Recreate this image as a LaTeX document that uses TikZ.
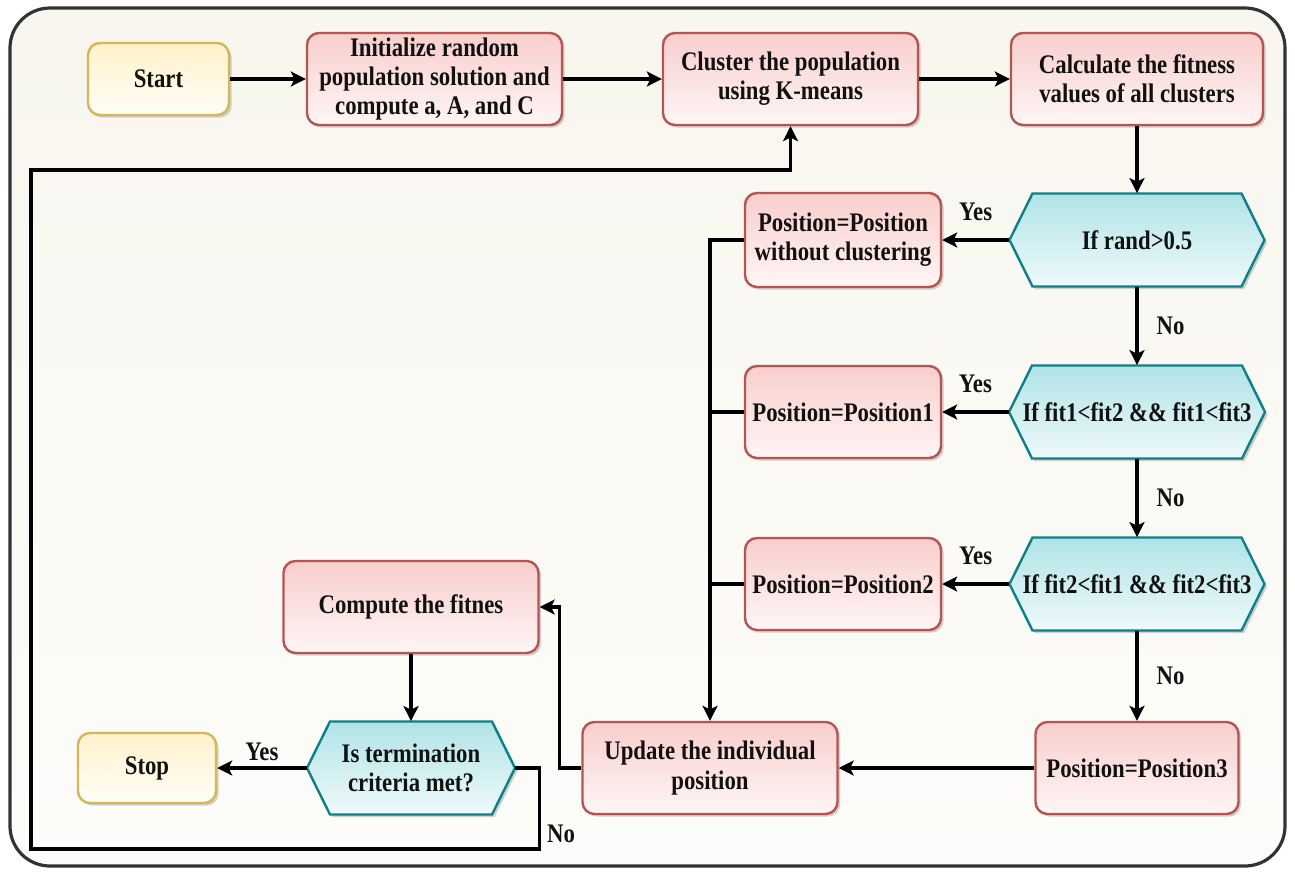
\documentclass[tikz,border=0pt]{standalone}
\usepackage{fontspec}
\setmainfont{Liberation Serif}[FakeStretch=0.85]
\usetikzlibrary{arrows.meta,shadows}
\definecolor{redb}{HTML}{B85450}
\definecolor{redt}{HTML}{F8CECC}
\definecolor{redw}{HTML}{FFF6F6}
\definecolor{yelb}{HTML}{D6B656}
\definecolor{yelt}{HTML}{FFF2CC}
\definecolor{yelw}{HTML}{FFFDF6}
\definecolor{tealb}{HTML}{0E8088}
\definecolor{tealt}{HTML}{B0E3E6}
\definecolor{tealw}{HTML}{EFFAFB}
\definecolor{framec}{HTML}{333333}
\definecolor{bgt}{HTML}{F8F6EE}
\definecolor{bgb}{HTML}{FCFCFA}
\definecolor{ink}{HTML}{111111}

\newcommand\hexnode[5]{%
  \path[hexshape] (#2-#4,#3) -- ++(23,-46.5) -- ++(2*#4-46,0) -- ++(23,46.5) -- ++(-23,46.5) -- ++(-2*#4+46,0) -- cycle;
  \node[hextext, minimum width=#4pt] (#1) at (#2,#3) {#5};}

\begin{document}
\begin{tikzpicture}[x=0.5pt,y=-0.5pt,
  font=\fontsize{13.4}{14.6}\selectfont\bfseries, text=ink,
  shad/.style={drop shadow={shadow xshift=1.3pt,shadow yshift=-1.3pt,opacity=0.35}},
  base/.style={rectangle, align=center, line width=1.2pt, rounded corners=6pt, shad, minimum height=46pt, inner sep=2pt},
  redbox/.style={base, draw=redb, top color=redt, bottom color=redw, minimum width=127.5pt},
  yelbox/.style={base, draw=yelb, top color=yelt, bottom color=yelw, minimum width=70pt, minimum height=36pt},
  hexshape/.style={draw=tealb, line width=1.2pt, top color=tealt, bottom color=tealw, line join=miter, shad},
  hextext/.style={rectangle, minimum height=46.5pt, inner sep=0pt, align=center},
  frame/.style={draw=framec, line width=1.6pt, rounded corners=20pt, top color=bgt, bottom color=bgb},
  arr/.style={draw=black, line width=1.6pt, -{Stealth[length=7.5pt,width=7.5pt,inset=1.8pt]}},
  plainline/.style={draw=black, line width=1.6pt},
  lbl/.style={inner sep=1pt}]
\useasboundingbox (0,0) rectangle (1295,873);
\draw[frame] (10,8) rectangle (1285,866);

\node[yelbox, minimum width=70.5pt] (start) at (158.5,79) {Start};
\node[redbox] (init) at (434.5,79) {Initialize random\\population solution and\\compute a, A, and C};
\node[redbox] (cluster) at (790.5,79) {Cluster the population\\using K-means};
\node[redbox, minimum width=126pt] (calc) at (1137,79) {Calculate the fitness\\values of all clusters};
\hexnode{ifr}{1137}{240}{127.5}{If rand>0.5}
\node[redbox, minimum width=98pt, minimum height=47pt] (posw) at (843,240) {Position=Position\\without clustering};
\hexnode{iff1}{1137}{412}{128}{If fit1<fit2 \&\& fit1<fit3}
\node[redbox, minimum width=98pt] (pos1) at (843,412) {Position=Position1};
\hexnode{iff2}{1137}{584}{127.5}{If fit2<fit1 \&\& fit2<fit3}
\node[redbox, minimum width=98pt] (pos2) at (843,584) {Position=Position2};
\node[redbox, minimum width=101.5pt] (pos3) at (1137,768) {Position=Position3};
\node[redbox] (update) at (710,768) {Update the individual\\position};
\node[redbox] (compute) at (411,607) {Compute the fitnes};
\hexnode{term}{411}{768}{104}{Is termination\\criteria met?}
\node[yelbox, minimum width=69pt, minimum height=35pt] (stop) at (147,768) {Stop};

\draw[arr] (start.east) -- (start.east -| init.west);
\draw[arr] (init.east) -- (init.east -| cluster.west);
\draw[arr] (cluster.east) -- (cluster.east -| calc.west);
\draw[arr] (calc.south) -- (ifr.north);
\draw[arr] (ifr.west) -- node[lbl,above=8pt]{Yes} (posw.east);
\draw[arr] (ifr.south) -- node[lbl,right=8pt]{No} (iff1.north);
\draw[arr] (iff1.west) -- node[lbl,above=8pt]{Yes} (pos1.east);
\draw[arr] (iff1.south) -- node[lbl,right=8pt]{No} (iff2.north);
\draw[arr] (iff2.west) -- node[lbl,above=8pt]{Yes} (pos2.east);
\draw[arr] (iff2.south) -- node[lbl,right=8pt]{No} (pos3.north);
\draw[arr] (pos3.west) -- (update.east);
\draw[arr] (posw.west) -| (update.north);
\draw[plainline] (pos1.west) -- (pos1.west -| update.north);
\draw[plainline] (pos2.west) -- (pos2.west -| update.north);
\draw[arr] (update.west) -- ++(-22,0) |- (compute.east);
\draw[arr] (compute.south) -- (term.north);
\draw[arr] (term.west) -- node[lbl,above=2pt]{Yes} (stop.east);
\coordinate (lb) at (31,849);
\coordinate (lt) at (31,170);
\draw[arr] (term.east) -- ++(24,0) |- (lb) -- (lt) -| (cluster.south);
\node[lbl] (nolbl) at (561,834) {No};
\end{tikzpicture}
\end{document}
